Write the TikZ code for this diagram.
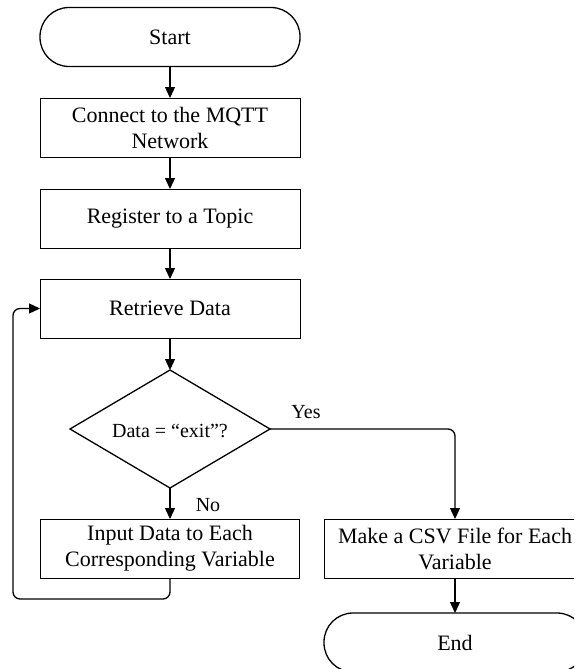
\documentclass[tikz,border=0pt]{standalone}
\usepackage{fontspec}
\setmainfont{Liberation Serif}
\usetikzlibrary{arrows.meta,shapes.geometric}
\begin{document}
\begin{tikzpicture}[x=1pt,y=-1pt,
  procbox/.style={draw,line width=0.9pt,minimum width=260pt,minimum height=59pt,inner sep=0pt,outer sep=0pt,align=center,font=\fontsize{22}{26}\selectfont},
  termbox/.style={draw,line width=1.3pt,rounded corners=29pt,minimum width=260pt,minimum height=59pt,inner sep=0pt,outer sep=0pt,font=\fontsize{22}{26}\selectfont},
  decbox/.style={draw,line width=1.3pt,diamond,aspect=1.695,minimum width=200pt,minimum height=118pt,inner sep=0pt,outer sep=0pt,font=\fontsize{20}{24}\selectfont},
  conn/.style={line width=1.3pt,-{Triangle[length=11pt,width=10pt]},rounded corners=7pt},
  lbl/.style={font=\fontsize{20}{24}\selectfont,inner sep=0pt}
]
\useasboundingbox (0,0) rectangle (574,669);
\clip (0,0) rectangle (574,669);
\node[termbox] (start) at (170,37) {Start};
\node[procbox] (conn) at (170,127.5) {Connect to the MQTT\\Network};
\node[procbox] (reg) at (170,218.5) {Register to a Topic};
\node[procbox] (ret) at (170,308.5) {Retrieve Data};
\node[decbox] (dec) at (170,429) {};
\node[lbl] (dectext) at (170,431) {Data = “exit”?};
\node[procbox,minimum width=259pt] (inp) at (170,548.5) {Input Data to Each\\Corresponding Variable};
\node[procbox,minimum width=262pt] (csv) at (455,548.5) {Make a CSV File for Each\\Variable};
\node[termbox,minimum width=262pt] (end) at (455,642.5) {End};
\node[lbl] (yes) at (306,412) {Yes};
\node[lbl] (no) at (208,505) {No};
\coordinate (l1) at (170,599);
\coordinate (l2) at (13,599);
\coordinate (l3) at (13,308.5);
\coordinate (y1) at (455,429);
\draw[conn] (start) -- (conn);
\draw[conn] (conn) -- (reg);
\draw[conn] (reg) -- (ret);
\draw[conn] (ret) -- (dec);
\draw[conn] (dec) -- (inp);
\draw[conn] (inp.south) -- (l1) -- (l2) -- (l3) -- (ret.west);
\draw[conn] (dec.east) -- (y1) -- (csv.north);
\draw[conn] (csv) -- (end);
\end{tikzpicture}
\end{document}
